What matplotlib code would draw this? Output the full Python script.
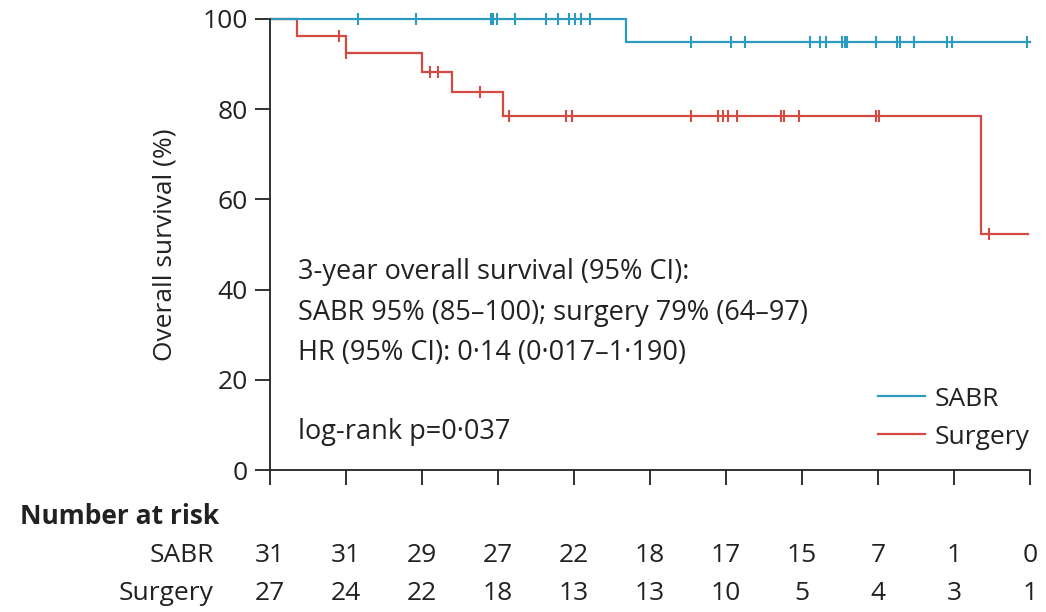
import matplotlib
matplotlib.use("Agg")
import matplotlib.pyplot as plt
import numpy as np

# ---- data (years, % survival) ----
sabr_step_times = [0, 4.69, 10.0]
sabr_step_surv = [100, 94.9, 94.9]
sabr_censor = [1.16, 1.92, 2.91, 2.94, 2.99, 3.22, 3.63, 3.79, 3.93, 4.01, 4.09, 4.21,
               5.54, 6.06, 6.25, 7.11, 7.24, 7.32, 7.53, 7.56, 7.59, 7.97, 8.25, 8.29,
               8.47, 8.91, 8.97, 9.96]

surg_step_times = [0, 0.35, 1.00, 2.00, 2.40, 3.06, 9.36, 9.97]
surg_step_surv = [100, 96.3, 92.4, 88.3, 83.9, 78.5, 52.3, 52.3]
surg_censor = [0.91, 1.00, 2.11, 2.21, 2.76, 3.15, 3.89, 3.97, 5.54, 5.89, 5.96, 6.03,
               6.14, 6.72, 6.76, 6.96, 7.97, 8.01, 9.46]

risk_times = list(range(0, 11))
risk_sabr = [31, 31, 29, 27, 22, 18, 17, 15, 7, 1, 0]
risk_surg = [27, 24, 22, 18, 13, 13, 10, 5, 4, 3, 1]

y_ticks = [0, 20, 40, 60, 80, 100]

BLUE = "#2b9cc0"
RED = "#d34a43"
TXT = "#222222"
FS = 19
plt.rcParams['font.family'] = ["Open Sans", "DejaVu Sans"]

fig = plt.figure(figsize=(10.46, 6.12), dpi=100)
ax = fig.add_axes([270/1046, 1-470/612, 760/1046, 451/612])

def surv_at(times, survs, t):
    idx = np.searchsorted(times, t, side='right') - 1
    return survs[max(idx, 0)]

for times, survs, cens, col, lab in [
        (surg_step_times, surg_step_surv, surg_censor, RED, "Surgery"),
        (sabr_step_times, sabr_step_surv, sabr_censor, BLUE, "SABR")]:
    ax.step(times, survs, where='post', color=col, lw=1.6, clip_on=False,
            solid_joinstyle='miter', label=lab)
    cy = [surv_at(times, survs, t) for t in cens]
    ax.plot(cens, cy, ls='none', marker='|', ms=9, mew=1.5, color=col, clip_on=False)

ax.set_xlim(0, 10)
ax.set_ylim(0, 100)
ax.set_xticks(risk_times)
ax.set_xticklabels([])
ax.set_yticks(y_ticks)
ax.set_yticklabels([str(v) for v in y_ticks], fontsize=FS, color=TXT)
ax.tick_params(axis='x', length=11, width=1.3, direction='out', color=TXT)
ax.tick_params(axis='y', length=11, width=1.3, direction='out', color=TXT, pad=5)
for s in ['top', 'right']:
    ax.spines[s].set_visible(False)
for s in ['left', 'bottom']:
    ax.spines[s].set_linewidth(1.3)
    ax.spines[s].set_color(TXT)

ax.set_ylabel("Overall survival (%)", fontsize=FS, color=TXT)
ax.yaxis.set_label_coords((178-270)/760, 0.5)

# annotation
tx = 298
for yy, s in [(272, "3-year overall survival (95% CI):"),
              (313, "SABR 95% (85\u2013100); surgery 79% (64\u201397)"),
              (353, "HR (95% CI): 0\u00b714 (0\u00b7017\u20131\u00b7190)"),
              (432, "log-rank p=0\u00b7037")]:
    fig.text(tx/1046, 1-yy/612, s, fontsize=19.5, va='center', ha='left', color=TXT)

# legend
handles, labels = ax.get_legend_handles_labels()
order = [1, 0]
leg = ax.legend([handles[i] for i in order], [labels[i] for i in order],
                loc='lower right', bbox_to_anchor=(1.0, 0.045), frameon=False,
                fontsize=FS, handlelength=1.8, handletextpad=0.38, labelspacing=0.5,
                borderaxespad=0.0, borderpad=0.0)
for t in leg.get_texts():
    t.set_color(TXT)

# number at risk table
fig.text(20/1046, 1-516/612, "Number at risk", fontsize=FS, fontweight='bold',
         va='center', ha='left', color=TXT)
fig.text(214/1046, 1-556/612, "SABR", fontsize=FS, va='center', ha='right', color=TXT)
fig.text(214/1046, 1-593/612, "Surgery", fontsize=FS, va='center', ha='right', color=TXT)
for t, a, b in zip(risk_times, risk_sabr, risk_surg):
    xf = ax.transData.transform((t, 0))
    xfig = fig.transFigure.inverted().transform(xf)[0]
    fig.text(xfig, 1-556/612, str(a), fontsize=FS, va='center', ha='center', color=TXT)
    fig.text(xfig, 1-593/612, str(b), fontsize=FS, va='center', ha='center', color=TXT)

fig.savefig("out.png", dpi=100)
